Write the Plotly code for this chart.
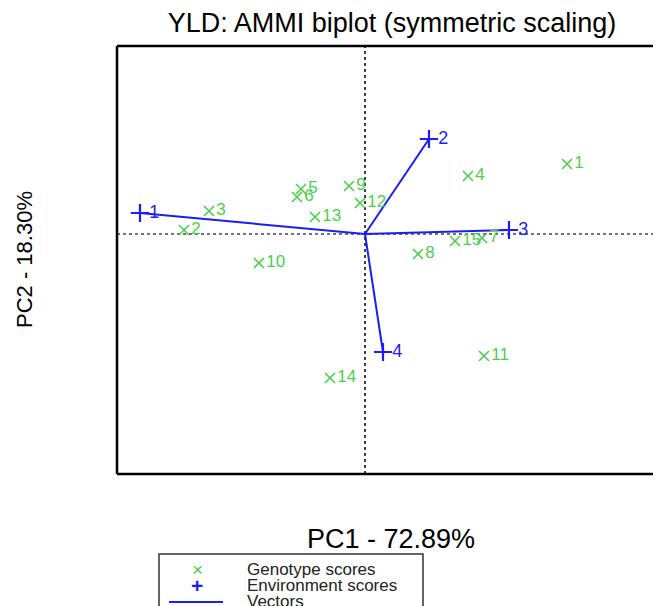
import plotly.graph_objects as go

# Genotype scores (PC1, PC2)
gen_labels = ["1", "2", "3", "4", "5", "6", "7", "8", "9", "10", "11", "12", "13", "14", "15"]
gen_pc1 = [4.04, -3.62, -3.12, 2.06, -1.28, -1.36, 2.34, 1.06, -0.32, -2.12, 2.38, -0.10, -1.00, -0.70, 1.80]
gen_pc2 = [1.40, 0.08, 0.46, 1.16, 0.90, 0.74, -0.08, -0.40, 0.96, -0.58, -2.44, 0.62, 0.34, -2.88, -0.14]

# Environment scores (PC1, PC2)
env_labels = ["1", "2", "3", "4"]
env_pc1 = [-4.50, 1.28, 2.88, 0.36]
env_pc2 = [0.42, 1.90, 0.08, -2.36]

title_text = "YLD: AMMI biplot (symmetric scaling)"
xlab = "PC1 - 72.89%"
ylab = "PC2 - 18.30%"
legend_names = ["Genotype scores", "Environment scores", "Vectors"]

GREEN = "#4ccf4c"
BLUE = "#1c1cf5"
FONT = "Liberation Sans, Arial, sans-serif"

OFF = 8  # page body margin
W, H = 661 - OFF, 606 - OFF
L, T = 117 - OFF, 46 - OFF
BOT = 474 - OFF
R, B = 0, H - BOT
PW, PH = W - L - R, BOT - T

def px(xp):
    return (xp - OFF - L) / PW

def py(yp):
    return (BOT - (yp - OFF)) / PH

fig = go.Figure()

# vectors
vx, vy = [], []
for a, b in zip(env_pc1, env_pc2):
    vx += [0, a, None]
    vy += [0, b, None]
fig.add_trace(go.Scatter(x=vx, y=vy, mode="lines", line=dict(color=BLUE, width=2),
                         name=legend_names[2], showlegend=False, hoverinfo="skip"))

fig.add_trace(go.Scatter(x=gen_pc1, y=gen_pc2, mode="markers+text", text=gen_labels,
                         textposition="middle right",
                         textfont=dict(color=GREEN, size=17, family=FONT),
                         marker=dict(symbol="x-thin", size=10, line=dict(color=GREEN, width=1.6), color=GREEN),
                         name=legend_names[0], showlegend=False))

fig.add_trace(go.Scatter(x=env_pc1, y=env_pc2, mode="markers+text", text=env_labels,
                         textposition="middle right",
                         textfont=dict(color=BLUE, size=18, family=FONT),
                         marker=dict(symbol="cross-thin", size=13, line=dict(color=BLUE, width=2.2), color=BLUE),
                         name=legend_names[1], showlegend=False))

xr = [(117 - 365) / 50, (661 - 365) / 50]
yr = [(234 - 474) / 50, (234 - 46) / 50]

fig.update_xaxes(range=xr, showgrid=False, zeroline=False, showticklabels=False, ticks="", showline=False)
fig.update_yaxes(range=yr, showgrid=False, zeroline=False, showticklabels=False, ticks="", showline=False)

shapes = []
# dotted reference lines
shapes.append(dict(type="line", xref="x", yref="paper", x0=0, x1=0, y0=0, y1=1,
                   line=dict(color="black", width=1.5, dash="dot"), layer="below"))
shapes.append(dict(type="line", xref="paper", yref="y", x0=0, x1=1, y0=0, y1=0,
                   line=dict(color="#444", width=1.5, dash="dot"), layer="below"))
# box (right edge cut off)
for (x0, y0, x1, y1) in [(0, 0, 0, 1), (0, 1, 1, 1), (0, 0, 1, 0)]:
    shapes.append(dict(type="line", xref="paper", yref="paper", x0=x0, y0=y0, x1=x1, y1=y1,
                       line=dict(color="black", width=2.5)))
# legend box
shapes.append(dict(type="rect", xref="paper", yref="paper", x0=px(159), x1=px(423), y0=py(640), y1=py(554),
                   line=dict(color="#333", width=1.5)))
shapes.append(dict(type="line", xref="paper", yref="paper", x0=px(169), x1=px(223), y0=py(602), y1=py(602),
                   line=dict(color=BLUE, width=2)))

ann = []
ann.append(dict(text=xlab, xref="paper", yref="paper", x=px(391), y=py(539), showarrow=False,
                font=dict(size=27, family=FONT, color="black"), xanchor="center", yanchor="middle"))
ann.append(dict(text=ylab, xref="paper", yref="paper", x=px(24), y=py(260), showarrow=False, textangle=-90,
                font=dict(size=22, family=FONT, color="black"), xanchor="center", yanchor="middle"))
ann.append(dict(text="×", xref="paper", yref="paper", x=px(197), y=py(569), showarrow=False,
                font=dict(size=19, family=FONT, color=GREEN), xanchor="center", yanchor="middle"))
ann.append(dict(text="<b>+</b>", xref="paper", yref="paper", x=px(197), y=py(585), showarrow=False,
                font=dict(size=21, family=FONT, color=BLUE), xanchor="center", yanchor="middle"))
for name, yy in zip(legend_names, [569, 585, 601]):
    ann.append(dict(text=name, xref="paper", yref="paper", x=px(245), y=py(yy), showarrow=False,
                    font=dict(size=17, family=FONT, color="#222"), xanchor="left", yanchor="middle"))

fig.update_layout(
    width=W, height=H, margin=dict(l=L, r=R, t=T, b=B),
    paper_bgcolor="white", plot_bgcolor="white",
    title=dict(text=title_text, x=(392 - OFF) / W, xref="container", xanchor="center",
               y=1 - (23 - OFF) / H, yanchor="middle", font=dict(size=27, family=FONT, color="black")),
    shapes=shapes, annotations=ann, showlegend=False,
)

fig.write_html("out.html")
